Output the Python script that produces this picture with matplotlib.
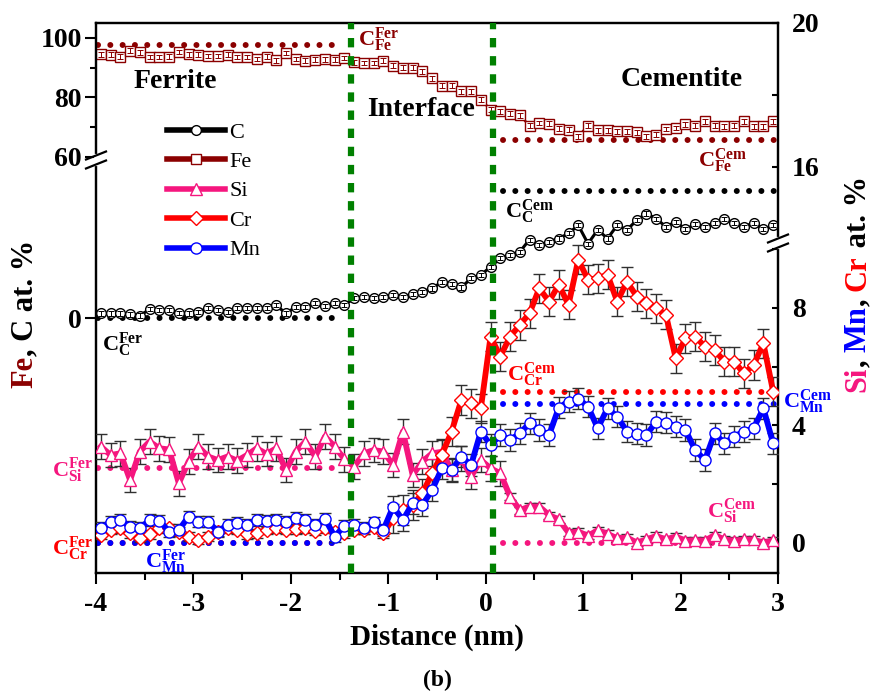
import numpy as np
import matplotlib
matplotlib.use("Agg")
import matplotlib.pyplot as plt
import matplotlib.transforms as mtransforms
from matplotlib.lines import Line2D

plt.rcParams['font.family'] = 'Liberation Serif'
plt.rcParams['font.weight'] = 'bold'
plt.rcParams['axes.unicode_minus'] = False
plt.rcParams['mathtext.fontset'] = 'custom'
plt.rcParams['mathtext.rm'] = 'Liberation Serif:bold'
plt.rcParams['mathtext.bf'] = 'Liberation Serif:bold'
plt.rcParams['mathtext.it'] = 'Liberation Serif:bold:italic'

# ---- data (at. %) vs distance (nm) ----
distance = np.linspace(-3.95, 2.95, 70)

fe = [94.5, 94.3, 93.7, 95.7, 95.1, 93.5, 93.5, 93.7, 95.2, 94.5,
      94.3, 93.9, 93.9, 94.3, 93.5, 93.5, 92.9, 93.7, 92.4, 94.9,
      92.9, 92.3, 92.6, 92.8, 92.6, 93.2, 91.7, 91.5, 91.5, 92.3,
      90.6, 90.0, 90.0, 88.7, 86.4, 83.9, 83.9, 82.0, 82.0, 79.2,
      75.8, 75.2, 74.5, 73.9, 70.4, 71.3, 71.1, 69.4, 69.1, 66.8,
      70.4, 68.8, 68.8, 68.5, 68.5, 68.2, 66.8, 67.4, 69.3, 69.6,
      70.8, 70.4, 71.9, 70.4, 70.2, 70.4, 71.9, 70.2, 70.2, 71.9]

c = [0.9, 0.9, 0.9, 0.7, 0.5, 1.7, 1.6, 1.6, 1.05, 0.9,
     1.2, 2.0, 1.6, 1.2, 2.0, 2.0, 1.9, 2.0, 2.5, 0.9,
     2.2, 2.2, 2.9, 2.35, 3.0, 2.55, 3.9, 4.05, 3.9, 4.05,
     4.5, 4.05, 4.8, 5.2, 5.8, 7.1, 6.7, 6.0, 7.8, 8.4,
     10.1, 11.7, 12.4, 13.0, 15.4, 14.3, 15.0, 15.6, 16.6, 18.2,
     14.6, 17.3, 15.6, 18.2, 17.3, 19.2, 20.5, 19.5, 17.9, 18.9,
     17.4, 18.4, 17.9, 18.7, 19.4, 18.7, 17.9, 18.7, 17.4, 18.2]

si = [3.28, 2.99, 3.05, 2.14, 3.11, 3.45, 3.22, 3.18, 2.03, 2.77,
      3.28, 2.94, 2.82, 2.94, 2.80, 2.99, 3.22, 3.03, 3.22, 2.48,
      3.11, 3.45, 2.94, 3.62, 3.28, 2.85, 2.60, 3.05, 3.16, 3.11,
      2.65, 3.79, 2.31, 2.77, 3.05, 3.10, 2.48, 2.88, 2.26, 2.82,
      2.54, 2.37, 1.58, 1.12, 1.24, 1.24, 0.95, 0.80, 0.35, 0.39,
      0.24, 0.44, 0.31, 0.16, 0.19, 0.01, 0.12, 0.24, 0.12, 0.22,
      0.08, 0.10, 0.08, 0.27, 0.12, 0.08, 0.12, 0.12, 0.00, 0.10]

cr = [0.27, 0.44, 0.50, 0.33, 0.18, 0.30, 0.50, 0.50, 0.39, 0.22,
      0.10, 0.22, 0.39, 0.50, 0.44, 0.30, 0.33, 0.44, 0.50, 0.44,
      0.47, 0.50, 0.41, 0.50, 0.39, 0.33, 0.45, 0.44, 0.56, 0.33,
      0.84, 1.12, 1.29, 1.69, 2.37, 3.00, 3.79, 4.86, 4.75, 4.58,
      7.02, 6.34, 7.02, 7.41, 7.81, 8.66, 8.21, 8.78, 8.10, 9.63,
      8.95, 9.00, 9.12, 8.21, 8.89, 8.38, 8.15, 7.98, 7.76, 6.28,
      6.96, 7.02, 6.68, 6.56, 6.17, 6.17, 5.77, 6.05, 6.79, 5.15]

mn = [0.50, 0.73, 0.78, 0.56, 0.50, 0.78, 0.76, 0.39, 0.44, 0.90,
      0.73, 0.73, 0.39, 0.61, 0.67, 0.61, 0.78, 0.76, 0.78, 0.73,
      0.84, 0.78, 0.61, 0.82, 0.22, 0.59, 0.60, 0.50, 0.70, 0.45,
      1.24, 0.78, 1.35, 1.29, 1.80, 2.54, 2.48, 2.94, 2.65, 3.79,
      3.33, 3.67, 3.50, 3.73, 4.07, 3.84, 3.67, 4.60, 4.80, 4.90,
      4.64, 3.90, 4.58, 4.30, 3.79, 3.71, 3.67, 4.13, 4.09, 3.96,
      3.84, 3.16, 2.82, 3.73, 3.39, 3.62, 3.79, 3.90, 4.58, 3.39]

# error bar half-widths (ferrite side / cementite side)
fe_err, c_err = 0.8, 0.4
si_err = np.where(distance < 0.2, 0.42, 0.12)
cr_err = np.where(distance < -1.0, 0.15, 0.5)
mn_err = np.where(distance < -1.0, 0.20, 0.36)

# equilibrium levels
fe_fer, fe_cem = 97.6, 65.7
c_fer, c_cem = 0.0, 25.0
si_fer, si_cem = 2.54, 0.0
cr_fer, cr_cem = 0.0, 5.12
mn_fer, mn_cem = 0.0, 4.73
fer_span = [-3.98, -1.47]
cem_span = [0.18, 2.97]
boundaries = [-1.38, 0.076]

MAROON = '#8B0000'
PINK = '#F5167E'
RED = '#FF0000'
BLUE = '#0000FF'
GREEN = '#008000'


def broken(vals, pos):
    vals = np.asarray(vals, float)
    pos = np.asarray(pos, float)
    return (lambda v: np.interp(v, vals, pos),
            lambda p: np.interp(p, pos, vals))


W, H = 873, 696
fig = plt.figure(figsize=(W / 100, H / 100), dpi=100)
ax = fig.add_axes([96 / W, 1 - 573 / H, 682 / W, 550 / H])
ax2 = ax.twinx()

ax.set_yscale('function', functions=broken([-50, 31, 59, 105], [0, 413, 413.5, 550]))
ax.set_ylim(-50, 105)
ax2.set_yscale('function', functions=broken([-1.02, 10.2, 13.9, 20.0], [0, 330, 330.5, 550]))
ax2.set_ylim(-1.02, 20.0)
ax.set_xlim(-4, 3)


def ref_line(axis, span, level, color):
    axis.plot(span, [level, level], color=color, lw=4.3, linestyle=(0, (0.01, 2.05)),
              dash_capstyle='round', zorder=2)


# left axis: Fe and C
ref_line(ax, fer_span, fe_fer, MAROON)
ref_line(ax, cem_span, fe_cem, MAROON)
ref_line(ax, fer_span, c_fer, 'black')
ref_line(ax, cem_span, c_cem, 'black')

fe_line, = ax.plot(distance, fe, '-', color=MAROON, lw=1.8, marker='s', ms=7,
                   mfc='white', mec=MAROON, mew=1.0, zorder=3)
ax.errorbar(distance, fe, yerr=fe_err, fmt='none', ecolor=MAROON, elinewidth=0.7,
            capsize=2.5, capthick=0.7, zorder=4)
c_line, = ax.plot(distance, c, '-', color='black', lw=2.2, marker='o', ms=7,
                  mfc='white', mec='black', mew=1.0, zorder=3)
ax.errorbar(distance, c, yerr=c_err, fmt='none', ecolor='black', elinewidth=0.7,
            capsize=2.5, capthick=0.7, zorder=4)

# right axis: Si, Cr, Mn
ref_line(ax2, fer_span, si_fer, PINK)
ref_line(ax2, cem_span, si_cem, PINK)
ref_line(ax2, fer_span, cr_fer, RED)
ref_line(ax2, cem_span, cr_cem, RED)
ref_line(ax2, fer_span, mn_fer, BLUE)
ref_line(ax2, cem_span, mn_cem, BLUE)

series = []
for vals, err, col, mk, ms in [(si, si_err, PINK, '^', 8.5),
                               (cr, cr_err, RED, 'D', 7.5),
                               (mn, mn_err, BLUE, 'o', 8)]:
    cont = ax2.errorbar(distance, vals, yerr=err, fmt='-', color=col, lw=4.2,
                        marker=mk, ms=ms, mfc='white', mec=col, mew=1.0,
                        ecolor='#303030', elinewidth=1.0, capsize=4, capthick=1.0,
                        zorder=3)
    series.append(cont.lines[0])
si_line, cr_line, mn_line = series

for b in boundaries:
    ax2.axvline(b, color=GREEN, lw=4.5, linestyle=(0, (1.5, 1.4)), zorder=10)

# ticks
for a in (ax, ax2):
    for s in a.spines.values():
        s.set_linewidth(1.6)
ax.set_xticks([-4, -3, -2, -1, 0, 1, 2, 3])
ax.set_xticks(np.arange(-3.5, 3, 1.0), minor=True)
ax.set_yticks([0, 60, 80, 100])
ax.set_yticklabels(['0', '60', '80', '100'])
ax.set_yticks([70, 90], minor=True)
ax2.set_yticks([0, 4, 8, 16, 20])
ax2.set_yticklabels(['0', '4', '8', '16', '20'])
ax2.set_yticks([2, 6, 10, 18], minor=True)

ax.tick_params(axis='x', which='major', direction='out', length=8, width=1.5,
               labelsize=20, pad=6, top=False)
ax.tick_params(axis='x', which='minor', direction='out', length=5, width=1.5, top=False)
ax.tick_params(axis='y', which='major', direction='out', length=8, width=1.5,
               labelsize=20, pad=2)
ax.tick_params(axis='y', which='minor', direction='out', length=4, width=1.5)
ax2.tick_params(axis='y', which='major', direction='in', length=4, width=1.5,
                labelsize=20, pad=10)
ax2.tick_params(axis='y', which='minor', direction='in', length=4, width=1.5)


# axis breaks
def axis_break(x_px, y_px):
    def fx(p):
        return p / W

    def fy(p):
        return 1 - p / H
    fig.add_artist(Line2D([fx(x_px), fx(x_px)], [fy(y_px - 4), fy(y_px + 4)],
                          color='white', lw=3, zorder=20))
    for dy in (-4.5, 4.5):
        fig.add_artist(Line2D([fx(x_px - 10), fx(x_px + 10)],
                              [fy(y_px + dy + 4), fy(y_px + dy - 4)],
                              color='black', lw=1.6, zorder=21))


axis_break(96, 160)
axis_break(778, 243)

# annotations
blend = mtransforms.blended_transform_factory(ax.transData, ax.transAxes)


def frac(y_px):
    return (573 - y_px) / 550


for txt, xv, yp in [('Ferrite', -3.19, 81), ('Interface', -0.664, 110),
                    ('Cementite', 2.015, 80)]:
    ax2.text(xv, frac(yp), txt, transform=blend, ha='center', va='center',
             fontsize=20, fontweight='bold', zorder=12)

labels = [
    (r'$\mathrm{C}_{\mathrm{Fe}}^{\mathrm{Fer}}$', -1.31, 40, MAROON),
    (r'$\mathrm{C}_{\mathrm{Fe}}^{\mathrm{Cem}}$', 2.18, 161, MAROON),
    (r'$\mathrm{C}_{\mathrm{C}}^{\mathrm{Cem}}$', 0.198, 212, 'black'),
    (r'$\mathrm{C}_{\mathrm{C}}^{\mathrm{Fer}}$', -3.94, 345, 'black'),
    (r'$\mathrm{C}_{\mathrm{Cr}}^{\mathrm{Cem}}$', 0.22, 375, RED),
    (r'$\mathrm{C}_{\mathrm{Mn}}^{\mathrm{Cem}}$', 3.05, 402, BLUE),
    (r'$\mathrm{C}_{\mathrm{Si}}^{\mathrm{Fer}}$', -4.45, 470, PINK),
    (r'$\mathrm{C}_{\mathrm{Cr}}^{\mathrm{Fer}}$', -4.45, 549, RED),
    (r'$\mathrm{C}_{\mathrm{Mn}}^{\mathrm{Fer}}$', -3.50, 562, BLUE),
    (r'$\mathrm{C}_{\mathrm{Si}}^{\mathrm{Cem}}$', 2.27, 511, PINK),
]
for txt, xv, yp, col in labels:
    ax2.text(xv, frac(yp), txt, transform=blend, ha='left', va='center',
             fontsize=16, color=col, clip_on=False, zorder=12)

leg = ax2.legend(handles=[c_line, fe_line, si_line, cr_line, mn_line],
                 labels=['C', 'Fe', 'Si', 'Cr', 'Mn'], loc='upper left',
                 bbox_to_anchor=(0.104, 0.82), frameon=False, numpoints=1,
                 prop={'family': 'Liberation Serif', 'weight': 'normal', 'size': 16},
                 handlelength=2.6, handletextpad=0.2, labelspacing=0.4,
                 borderaxespad=0, borderpad=0)
for h in leg.legend_handles:
    h.set_linewidth(4)
leg.set_zorder(15)

fig.text(437 / W, 1 - 637 / H, 'Distance (nm)', ha='center', va='center',
         fontsize=21, fontweight='bold')
fig.text(437 / W, 1 - 680 / H, '(b)', ha='center', va='center',
         fontsize=17, fontweight='bold')


def stacked_label(x_px, yc_px, parts, size):
    r = fig.canvas.get_renderer()
    items = [fig.text(0, 0, s, color=col, rotation=90, fontsize=size,
                      fontweight='bold', ha='center', va='bottom')
             for s, col in parts]
    hs = [t.get_window_extent(r).height for t in items]
    y = (H - yc_px) - sum(hs) / 2
    for t, h in zip(items, hs):
        t.set_position((x_px / W, y / H))
        y += h


stacked_label(25, 314, [('Fe', MAROON), (', C at. %', 'black')], 22)
stacked_label(858, 284, [('Si', PINK), (', ', 'black'), ('Mn', BLUE), (', ', 'black'),
                         ('Cr', RED), (' at. %', 'black')], 22)

fig.savefig('out.png', dpi=100)
